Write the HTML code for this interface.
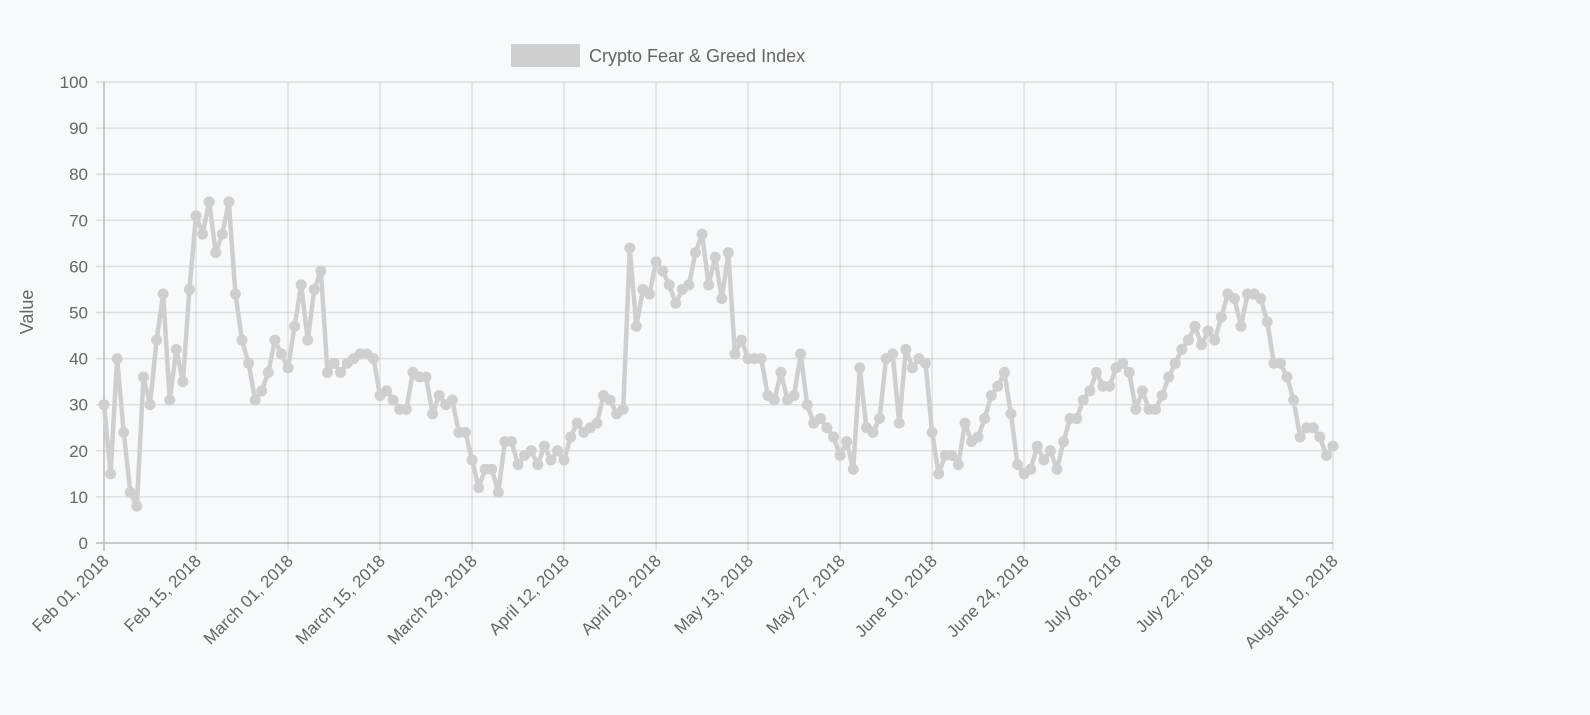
<!DOCTYPE html>
<html><head><meta charset="utf-8"><style>
html,body{margin:0;padding:0;background:#f8f9fa;}
svg{display:block;font-family:"Liberation Sans",sans-serif;}
</style></head><body>
<svg id="c" width="1590" height="715" xmlns="http://www.w3.org/2000/svg">
<rect width="1590" height="715" fill="#f8f9fa"/>
<rect x="511" y="44" width="69" height="23" fill="#cfcfcf"/>
<text x="589" y="62" font-size="18" fill="#666">Crypto Fear &amp; Greed Index</text>
<text transform="translate(33,312) rotate(-90)" text-anchor="middle" font-size="18" fill="#666">Value</text>
<g id="g"></g>
</svg>
<script>
var v=[30,15,40,24,11,8,36,30,44,54,31,42,35,55,71,67,74,63,67,74,54,44,39,31,33,37,44,41,38,47,56,44,55,59,37,39,37,39,40,41,41,40,32,33,31,29,29,37,36,36,28,32,30,31,24,24,18,12,16,16,11,22,22,17,19,20,17,21,18,20,18,23,26,24,25,26,32,31,28,29,64,47,55,54,61,59,56,52,55,56,63,67,56,62,53,63,41,44,40,40,40,32,31,37,31,32,41,30,26,27,25,23,19,22,16,38,25,24,27,40,41,26,42,38,40,39,24,15,19,19,17,26,22,23,27,32,34,37,28,17,15,16,21,18,20,16,22,27,27,31,33,37,34,34,38,39,37,29,33,29,29,32,36,39,42,44,47,43,46,44,49,54,53,47,54,54,53,48,39,39,36,31,23,25,25,23,19,21];
var L=104,R=1333,T=82,B=543,n=v.length,dx=(R-L)/(n-1);
function X(i){return L+i*dx}function Y(val){return B-(B-T)*val/100}
var s='';
for(var k=0;k<=10;k++){var y=Y(k*10);s+='<line x1="96" y1="'+y+'" x2="'+R+'" y2="'+y+'" stroke="'+(k==0?'#bbb':'rgba(0,0,0,0.1)')+'" stroke-width="1.5"/>';
s+='<text x="88" y="'+(y+6)+'" text-anchor="end" font-size="17" fill="#666">'+(k*10)+'</text>';}
var lab=["Feb 01, 2018","Feb 15, 2018","March 01, 2018","March 15, 2018","March 29, 2018","April 12, 2018","April 29, 2018","May 13, 2018","May 27, 2018","June 10, 2018","June 24, 2018","July 08, 2018","July 22, 2018"];
var tk=[];for(var j=0;j<13;j++)tk.push([j*14,lab[j]]);tk.push([n-1,"August 10, 2018"]);
tk.forEach(function(t,j){var x=X(t[0]);s+='<line x1="'+x+'" y1="'+T+'" x2="'+x+'" y2="551" stroke="'+(j==0?'#bbb':'rgba(0,0,0,0.1)')+'" stroke-width="1.5"/>';
s+='<text transform="translate('+(x+6)+',562) rotate(-45)" text-anchor="end" font-size="17" fill="#666">'+t[1]+'</text>';});
var p='';for(var i=0;i<n;i++)p+=(i?'L':'M')+X(i).toFixed(2)+' '+Y(v[i]).toFixed(2);
s+='<path d="'+p+'" fill="none" stroke="#cfcfcf" stroke-width="4.5" stroke-linejoin="round"/>';
for(var i=0;i<n;i++)s+='<circle cx="'+X(i).toFixed(2)+'" cy="'+Y(v[i]).toFixed(2)+'" r="5.5" fill="#cfcfcf"/>';
document.getElementById('g').innerHTML=s;
</script>
</body></html>
